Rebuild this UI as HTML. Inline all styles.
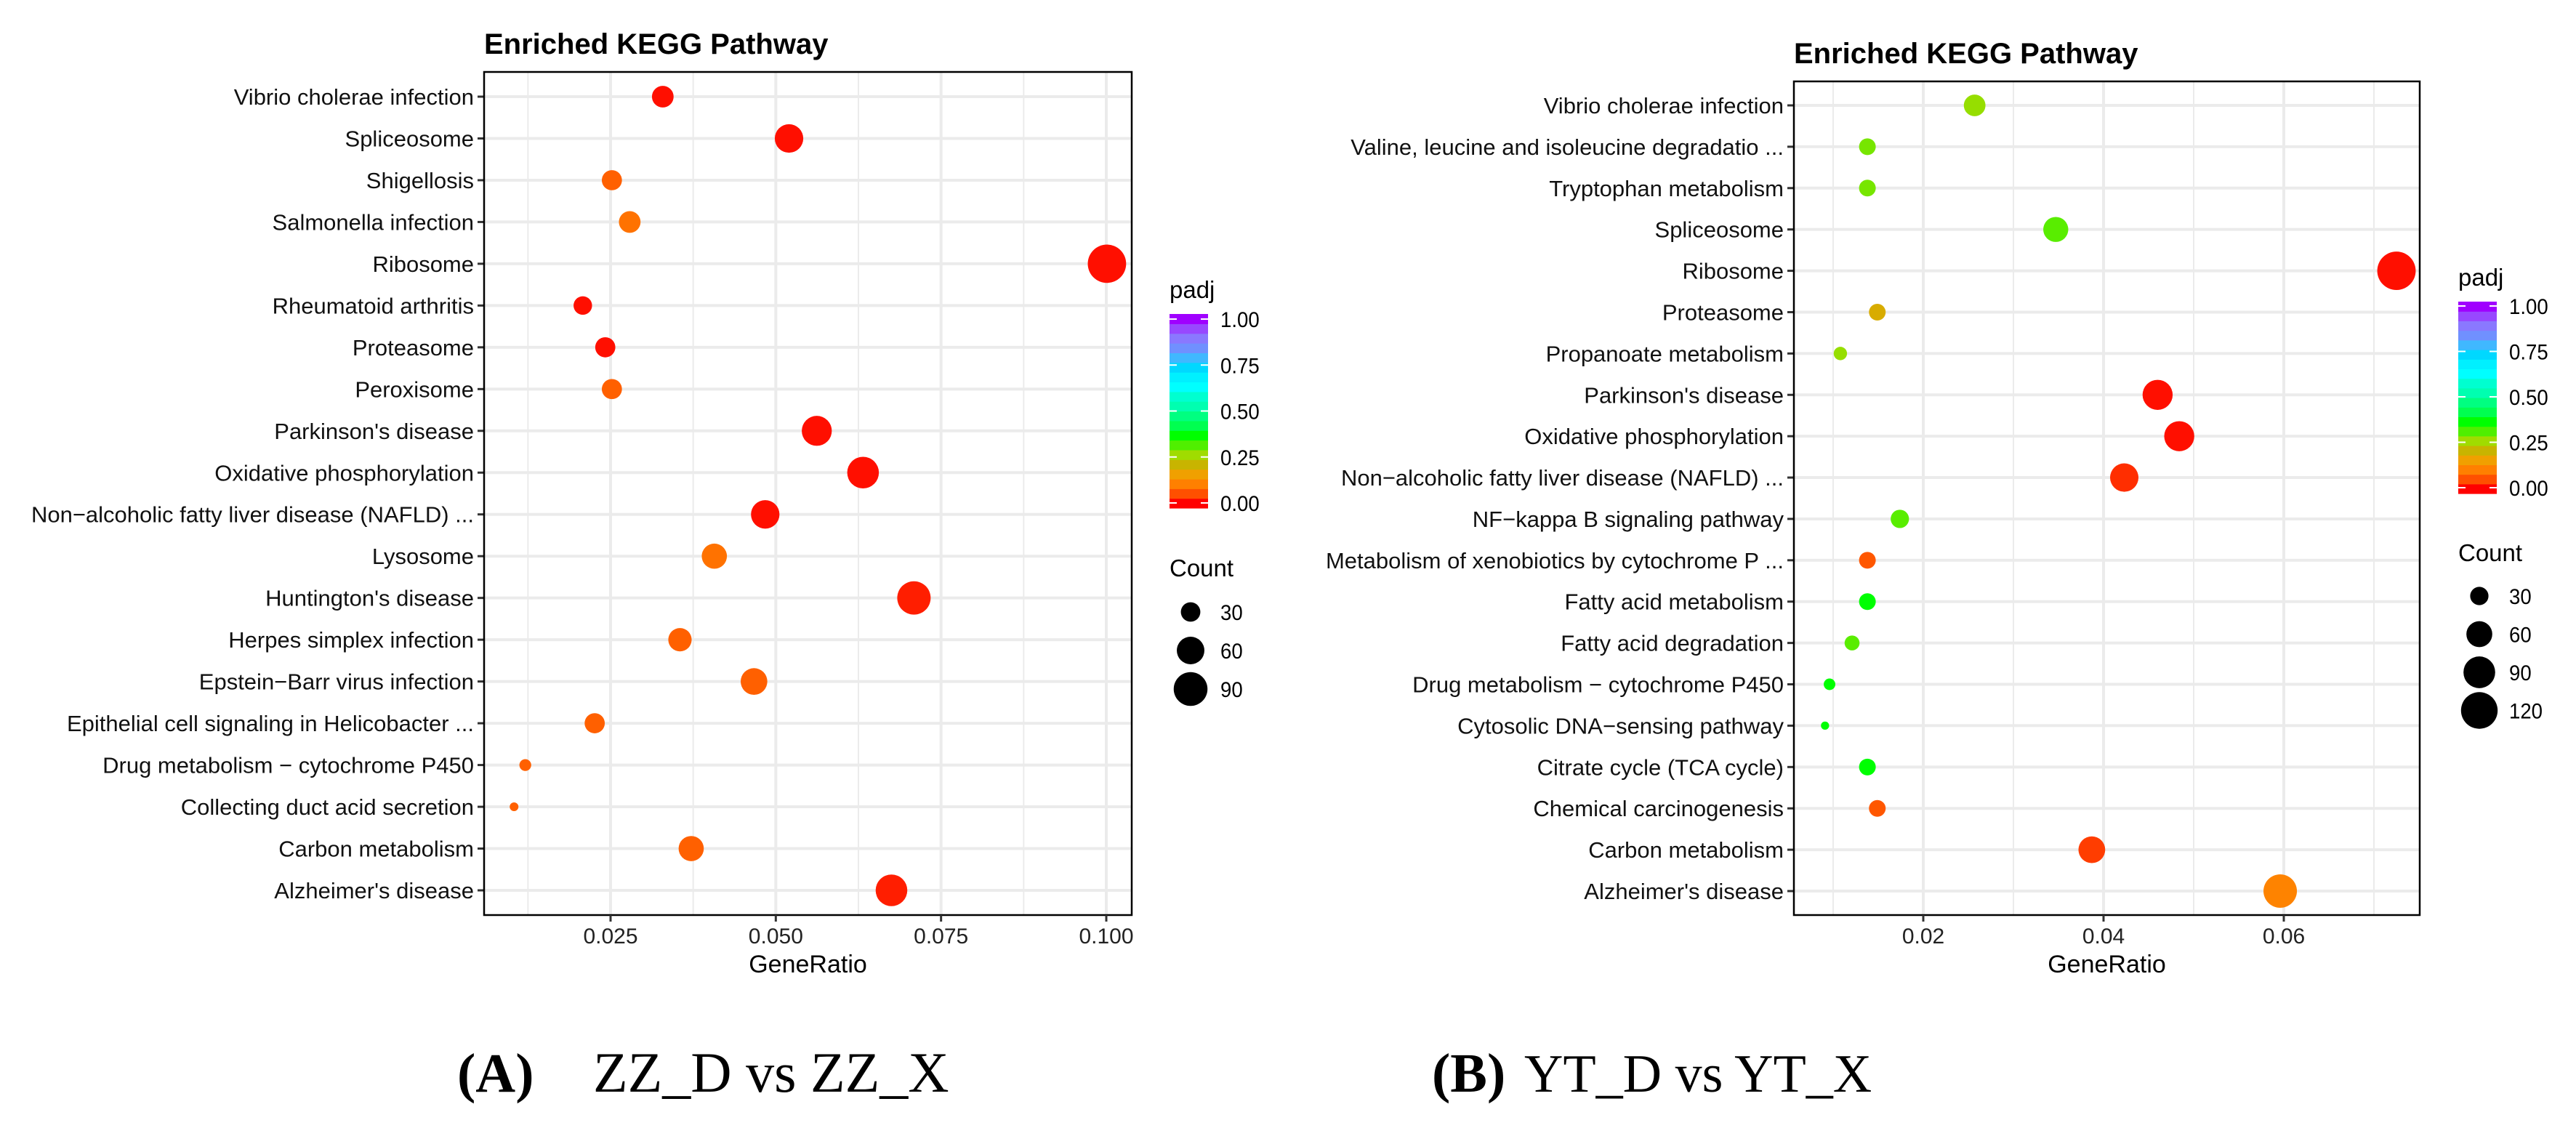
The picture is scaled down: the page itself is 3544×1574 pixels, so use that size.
<!DOCTYPE html>
<html><head><meta charset="utf-8"><style>
html,body{margin:0;padding:0;background:#fff;}
svg text{font-family:"Liberation Sans",Arial,sans-serif;}
</style></head><body>
<svg id="fig" width="3544" height="1569" viewBox="0 0 3544 1569" xmlns="http://www.w3.org/2000/svg">
<rect width="3544" height="1569" fill="#fff"/>
<g id="pa"></g>
<g id="pb"></g>
<text x="629" y="1502" font-size="76" font-weight="bold" style="font-family:'Liberation Serif',serif">(A)</text>
<text x="816" y="1502" font-size="78" style="font-family:'Liberation Serif',serif">ZZ_D vs ZZ_X</text>
<text x="1970" y="1502" font-size="76" font-weight="bold" style="font-family:'Liberation Serif',serif">(B)</text>
<text x="2097" y="1502" font-size="74" style="font-family:'Liberation Serif',serif">YT_D vs YT_X</text>
</svg>
<script>
const catsA = ["Vibrio cholerae infection","Spliceosome","Shigellosis","Salmonella infection","Ribosome","Rheumatoid arthritis","Proteasome","Peroxisome","Parkinson's disease","Oxidative phosphorylation","Non\u2212alcoholic fatty liver disease (NAFLD) ...","Lysosome","Huntington's disease","Herpes simplex infection","Epstein\u2212Barr virus infection","Epithelial cell signaling in Helicobacter ...","Drug metabolism \u2212 cytochrome P450","Collecting duct acid secretion","Carbon metabolism","Alzheimer's disease"];
const ratioA = [0.0329,0.0520,0.0252,0.0279,0.1001,0.0208,0.0242,0.0252,0.0562,0.0632,0.0484,0.0407,0.0709,0.0355,0.0467,0.0226,0.0121,0.0104,0.0372,0.0675];
const countA = [37,64,32,37,116,27,32,32,71,79,64,50,88,43,56,32,11,6,50,79];
const padjA = [0.01,0.01,0.07,0.09,0.01,0.01,0.01,0.07,0.01,0.01,0.01,0.09,0.02,0.07,0.07,0.07,0.07,0.07,0.07,0.02];
const ticksA = [0.025,0.05,0.075,0.1];
const tickLabA = ["0.025","0.050","0.075","0.100"];
const minorA = [0.0125,0.0375,0.0625,0.0875];
const legCountA = [30,60,90];

const catsB = ["Vibrio cholerae infection","Valine, leucine and isoleucine degradatio ...","Tryptophan metabolism","Spliceosome","Ribosome","Proteasome","Propanoate metabolism","Parkinson's disease","Oxidative phosphorylation","Non\u2212alcoholic fatty liver disease (NAFLD) ...","NF\u2212kappa B signaling pathway","Metabolism of xenobiotics by cytochrome P ...","Fatty acid metabolism","Fatty acid degradation","Drug metabolism \u2212 cytochrome P450","Cytosolic DNA\u2212sensing pathway","Citrate cycle (TCA cycle)","Chemical carcinogenesis","Carbon metabolism","Alzheimer's disease"];
const ratioB = [0.0257,0.0138,0.0138,0.0347,0.0725,0.0149,0.0108,0.0460,0.0484,0.0423,0.0174,0.0138,0.0138,0.0121,0.0096,0.0091,0.0138,0.0149,0.0387,0.0596];
const countB = [42,25,25,56,132,25,16,81,81,72,30,25,25,20,12,6,25,25,64,100];
const padjB = [0.27,0.29,0.29,0.31,0.01,0.19,0.27,0.01,0.01,0.03,0.31,0.06,0.37,0.31,0.37,0.37,0.37,0.06,0.04,0.11];
const ticksB = [0.02,0.04,0.06];
const tickLabB = ["0.02","0.04","0.06"];
const minorB = [0.01,0.03,0.05,0.07];
const legCountB = [30,60,90,120];

const colorBand = ["#ff0000","#ff5000","#ff8000","#f0a000","#c8b400","#a0dc00","#50ef00","#00ff00","#00ff50","#00ff80","#00ffb0","#00ffd0","#00ffff","#00f0ff","#00d8ff","#40b8ff","#7090ff","#8a78ff","#9848ff","#a000ff"];
const legPadj = ["0.00","0.25","0.50","0.75","1.00"];

function hex(c){return [parseInt(c.slice(1,3),16),parseInt(c.slice(3,5),16),parseInt(c.slice(5,7),16)];}
function colorOf(p){
  const t=Math.max(0,Math.min(1,p))*(colorBand.length-1);
  const i=Math.min(colorBand.length-2,Math.floor(t)),f=t-i;
  const a=hex(colorBand[i]),b=hex(colorBand[i+1]);
  return "rgb("+a.map((v,k)=>Math.round(v+(b[k]-v)*f)).join(",")+")";
}
const NS="http://www.w3.org/2000/svg";
function mk(parent,tag,attrs,txt){const e=document.createElementNS(NS,tag);for(const k in attrs)e.setAttribute(k,attrs[k]);if(txt!==undefined)e.textContent=txt;parent.appendChild(e);return e;}

function panel(g,cfg){
  const {L,R,T,B,x0,x1,vx0,vx1,yTop,yBot,cats,ratio,count,padj,ticks,tickLab,minor,k,legCounts,cbTop,cbBot,cbY1,cbY0,legTitleY,cntTitleY,cntY,legX,title,titleY}=cfg;
  const sx=v=>x0+(v-vx0)/(vx1-vx0)*(x1-x0);
  const sy=i=>yTop+i*(yBot-yTop)/(cats.length-1);
  const rad=c=>k*Math.sqrt(c);
  const t=mk(g,"text",{x:L,y:titleY,"font-size":40,"font-weight":"bold",fill:"#000"},title);
  
  
  minor.forEach(v=>{const l=mk(g,"line",{x1:sx(v),x2:sx(v),y1:T,y2:B,stroke:"#ebebeb","stroke-width":2});
    
    });
  ticks.forEach(v=>{const l=mk(g,"line",{x1:sx(v),x2:sx(v),y1:T,y2:B,stroke:"#ebebeb","stroke-width":4});
    
    });
  cats.forEach((c,i)=>{
    const l=mk(g,"line",{x1:L,x2:R,y1:sy(i),y2:sy(i),stroke:"#ebebeb","stroke-width":4});
    
    
    const tk=mk(g,"line",{x1:L-9,x2:L,y1:sy(i),y2:sy(i),stroke:"#333","stroke-width":3});
    
    
    const tx=mk(g,"text",{transform:"translate("+(L-14)+","+(sy(i)+11)+") scale(1.0,1)","text-anchor":"end","font-size":31,fill:"#111"},c);
    
    
  });
  cats.forEach((c,i)=>{
    const d=mk(g,"circle",{cx:sx(ratio[i]),cy:sy(i),r:rad(count[i]),fill:colorOf(padj[i])});
    
    
  });
  const box=mk(g,"rect",{x:L,y:T,width:R-L,height:B-T,fill:"none",stroke:"#000","stroke-width":2.5});
  
  
  ticks.forEach((v,i)=>{
    const tk=mk(g,"line",{x1:sx(v),x2:sx(v),y1:B,y2:B+9,stroke:"#333","stroke-width":3});
    
    
    const tx=mk(g,"text",{transform:"translate("+sx(v)+",1298)","text-anchor":"middle","font-size":30,fill:"#222"},tickLab[i]);
    
    
  });
  const xt=mk(g,"text",{transform:"translate("+((L+R)/2)+",1338)","text-anchor":"middle","font-size":34,fill:"#000"},"GeneRatio");
  
  
  const cbx=legX, cbw=53;
  const pt=mk(g,"text",{x:cbx,y:legTitleY,"font-size":33,fill:"#000"},"padj");
  
  
  const n=colorBand.length, bh=(cbBot-cbTop)/n;
  colorBand.forEach((c,i)=>{
    const r=mk(g,"rect",{x:cbx,y:cbBot-(i+1)*bh,width:cbw,height:bh+0.6,fill:c});
    
    
  });
  legPadj.forEach((lab,i)=>{
    const y=cbY0+(cbY1-cbY0)*(i/(legPadj.length-1));
    mk(g,"line",{x1:cbx,x2:cbx+10,y1:y,y2:y,stroke:"#fff","stroke-width":2});
    mk(g,"line",{x1:cbx+cbw-10,x2:cbx+cbw,y1:y,y2:y,stroke:"#fff","stroke-width":2});
    const tx=mk(g,"text",{transform:"translate("+(cbx+cbw+17)+","+(y+11)+") scale(0.92,1)","font-size":30,fill:"#000"},lab);
    
    
  });
  const ct=mk(g,"text",{x:cbx,y:cntTitleY,"font-size":33,fill:"#000"},"Count");
  
  
  legCounts.forEach((c,i)=>{
    const cy=cntY[0]+i*cntY[1];
    const d=mk(g,"circle",{cx:cbx+29,cy:cy,r:rad(c),fill:"#000"});
    
    
    const tx=mk(g,"text",{transform:"translate("+(cbx+70)+","+(cy+11)+") scale(0.92,1)","font-size":30,fill:"#000"},String(c));
    
    
  });
}
panel(document.getElementById("pa"),{L:666,R:1557,T:99,B:1259,x0:840,x1:1522,vx0:0.025,vx1:0.1,yTop:133,yBot:1225,
  cats:catsA,ratio:ratioA,count:countA,padj:padjA,ticks:ticksA,tickLab:tickLabA,minor:minorA,k:2.45,legCounts:legCountA,
  cbTop:432,cbBot:699,cbY1:439,cbY0:692,legTitleY:410,cntTitleY:793,cntY:[842,53],legX:1609,title:"Enriched KEGG Pathway",titleY:74});
panel(document.getElementById("pb"),{L:2468,R:3329,T:112,B:1259,x0:2646,x1:2894,vx0:0.02,vx1:0.04,yTop:145,yBot:1226,
  cats:catsB,ratio:ratioB,count:countB,padj:padjB,ticks:ticksB,tickLab:tickLabB,minor:minorB,k:2.3,legCounts:legCountB,
  cbTop:415,cbBot:679,cbY1:421,cbY0:671,legTitleY:393,cntTitleY:772,cntY:[820,52.5],legX:3382,title:"Enriched KEGG Pathway",titleY:87});
</script>
</body></html>
